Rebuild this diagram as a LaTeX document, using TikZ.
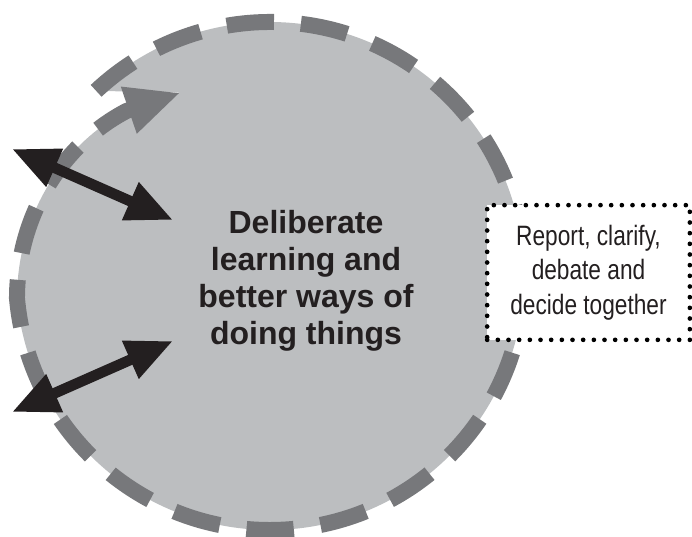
\documentclass[tikz,border=0pt]{standalone}
\usepackage{fontspec}
\setmainfont{Liberation Sans}
\newfontfamily\narrowfont[FakeStretch=0.81]{Liberation Sans}
\usetikzlibrary{arrows.meta}
\definecolor{discfill}{HTML}{BCBEC0}
\definecolor{rimgray}{HTML}{77787B}
\definecolor{inkblack}{HTML}{231F20}

\begin{document}
\begin{tikzpicture}[x=0.75pt,y=0.75pt,
    declare function={spiral(\t)=254-0.4*(185-\t)-0.0047*(185-\t)^2;}]
  \tikzset{
    rim/.style={rimgray, line width=12pt, dash pattern=on 35.5pt off 20.25pt, dash phase=35.5pt},
    rimarrow/.style={rimgray, line width=12pt, -{Triangle[length=41pt,width=34pt]}},
    twoway/.style={inkblack, line width=8pt,
      {Triangle[length=35pt,width=29pt]}-{Triangle[length=35pt,width=29pt]}},
    talk/.style={draw=black, fill=white, line width=3.5pt, line cap=round,
      dash pattern=on 0pt off 8pt, minimum width=152pt, minimum height=101pt,
      inner sep=0pt, align=center, text=inkblack,
      font=\narrowfont\fontsize{21}{25.9}\selectfont},
  }
  \useasboundingbox (0,0) rectangle (692,536);
  \coordinate (centre) at (270,260);

  % disc, its rim curls inward at the end
  \begin{scope}[shift={(centre)}]
    \fill[discfill] (133.2:254) arc[start angle=133.2, end angle=-175, radius=254]
      -- plot[domain=185:116, samples=40, variable=\t] ({\t}:{spiral(\t)}) -- cycle;
    \draw[rim] plot[domain=139.5:185, samples=40, variable=\t] ({\t}:{spiral(\t)})
      arc[start angle=185, end angle=493.2, radius=254];
    \draw[rimarrow] plot[domain=139.5:131, samples=10, variable=\t] ({\t}:{spiral(\t)})
      -- (116:{spiral(116)});
  \end{scope}

  \coordinate (outtop) at (12,387);
  \coordinate (intop) at (173,316);
  \coordinate (outlow) at (12,124);
  \coordinate (inlow) at (173,195);
  \draw[twoway] (outtop) -- (intop);
  \draw[twoway] (outlow) -- (inlow);

  \node[font=\bfseries\fontsize{24}{27.75}\selectfont, text=inkblack, align=center,
    inner sep=0pt] (learn) at (306,255.6) {Deliberate\\learning and\\better ways of\\doing things};
  \node[talk] (decide) at (588.5,263.5) {Report, clarify,\\debate and\\decide together};
\end{tikzpicture}
\end{document}
